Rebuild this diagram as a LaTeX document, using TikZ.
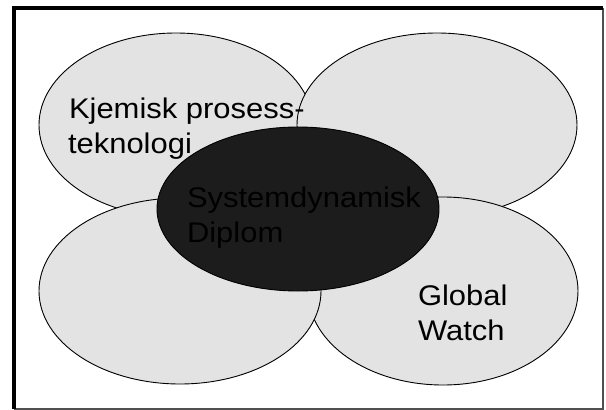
\documentclass[tikz,border=0pt]{standalone}
\usepackage{fontspec}
\setmainfont{Liberation Sans}[FakeStretch=1.09]
\usetikzlibrary{shapes.geometric}
\definecolor{lightfill}{RGB}{227,227,227}
\definecolor{darkfill}{RGB}{28,28,28}
\definecolor{framegray}{RGB}{80,80,80}
\begin{document}
\begin{tikzpicture}[x=1pt,y=-1pt,
  blob/.style={ellipse,draw=black,line width=0.9pt,fill=lightfill,inner sep=0pt},
  core/.style={ellipse,draw=black,line width=0.9pt,fill=darkfill,inner sep=0pt},
  lbl/.style={anchor=base west,inner sep=0pt,outer sep=0pt,font=\fontsize{28.4}{35}\selectfont,text=black}]
\useasboundingbox (0,0) rectangle (606,410);
\fill[white] (0,0) rectangle (606,410);
% frame
\coordinate (fTR) at (603,8);
\coordinate (fBL) at (14,409);
\coordinate (fBR) at (603,409);
\draw[framegray,line width=1.5pt] (fTR) -- (fBR) -- (fBL);
\draw[black,line width=4pt] (fBL) -- (14,8) -- (fTR);
% ellipses
\node[blob,minimum width=274pt,minimum height=184pt] (tl) at (176,125) {};
\node[blob,minimum width=280pt,minimum height=184pt] (tr) at (437,125) {};
\node[blob,minimum width=270pt,minimum height=188pt] (br) at (443,291) {};
\node[blob,minimum width=282pt,minimum height=186pt] (bl) at (180,291) {};
\node[core,minimum width=282pt,minimum height=164pt] (c) at (298,209) {};
% labels
\node[lbl] (t1) at (69,118) {Kjemisk prosess-};
\node[lbl] (t2) at (68,153) {teknologi};
\node[lbl] (t3) at (187,207) {Systemdynamisk};
\node[lbl] (t4) at (187,242) {Diplom};
\node[lbl] (t5) at (418,305) {Global};
\node[lbl] (t6) at (418,340) {Watch};
\end{tikzpicture}
\end{document}
